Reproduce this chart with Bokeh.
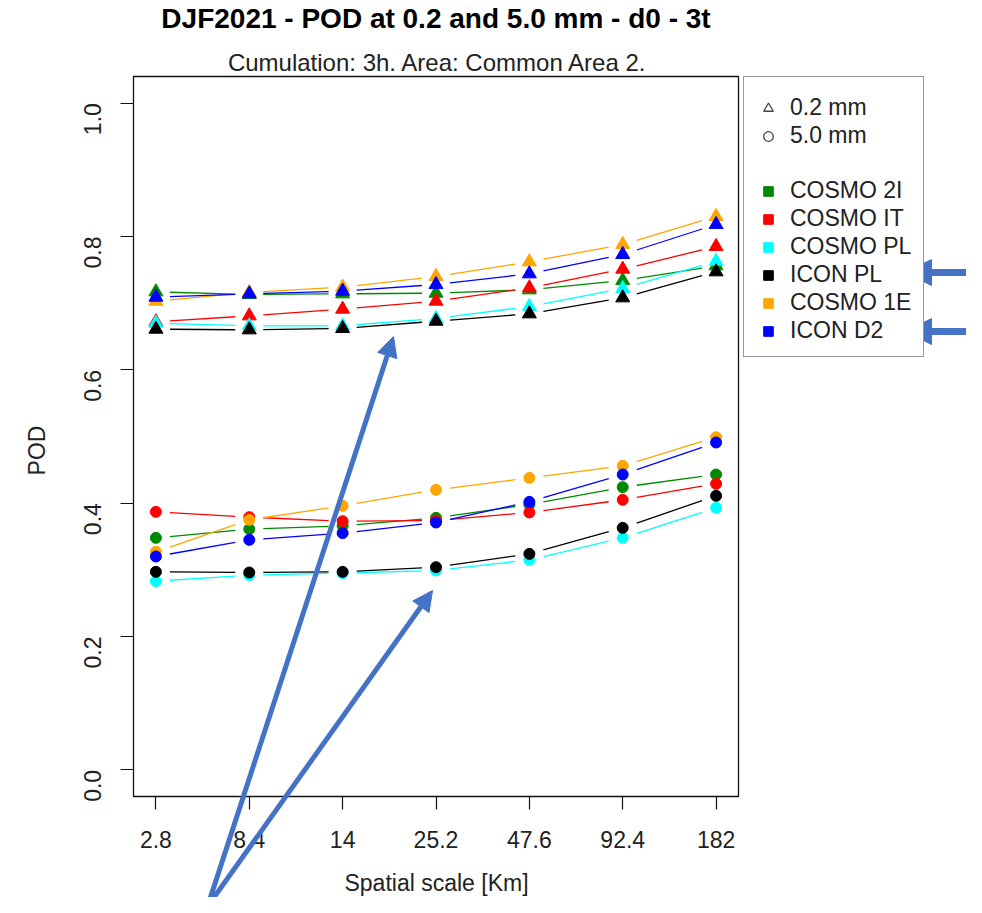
import math
from bokeh.plotting import figure
from bokeh.models import (FixedTicker, PrintfTickFormatter, Label, Arrow, NormalHead,
                          Legend, LegendItem, Range1d, ColumnDataSource, BoxAnnotation)
from bokeh.embed import file_html
from bokeh.resources import INLINE

# ---------------- data ----------------
scales = ["2.8", "8.4", "14", "25.2", "47.6", "92.4", "182"]
models = ["COSMO 2I", "COSMO IT", "COSMO PL", "ICON PL", "COSMO 1E", "ICON D2"]
colors = ["#008A00", "#FF0000", "#00FFFF", "#000000", "#FFA500", "#0000FF"]

# POD at 0.2 mm (triangles)
pod02_cosmo2i = [0.717, 0.713, 0.714, 0.715, 0.720, 0.734, 0.756]
pod02_cosmoit = [0.672, 0.681, 0.691, 0.703, 0.723, 0.751, 0.785]
pod02_cosmopl = [0.670, 0.666, 0.666, 0.677, 0.695, 0.722, 0.763]
pod02_iconpl = [0.661, 0.660, 0.662, 0.673, 0.684, 0.708, 0.747]
pod02_cosmo1e = [0.703, 0.716, 0.724, 0.740, 0.762, 0.788, 0.830]
pod02_icond2 = [0.709, 0.714, 0.718, 0.728, 0.744, 0.773, 0.818]

# POD at 5.0 mm (circles)
pod50_cosmo2i = [0.348, 0.361, 0.366, 0.378, 0.398, 0.424, 0.443]
pod50_cosmoit = [0.387, 0.379, 0.373, 0.374, 0.386, 0.405, 0.429]
pod50_cosmopl = [0.283, 0.292, 0.295, 0.299, 0.315, 0.348, 0.393]
pod50_iconpl = [0.297, 0.296, 0.297, 0.304, 0.324, 0.363, 0.411]
pod50_cosmo1e = [0.327, 0.375, 0.396, 0.420, 0.438, 0.456, 0.499]
pod50_icond2 = [0.320, 0.345, 0.355, 0.371, 0.402, 0.443, 0.491]

y_ticks = [0.0, 0.2, 0.4, 0.6, 0.8, 1.0]

series02 = [pod02_cosmo2i, pod02_cosmoit, pod02_cosmopl, pod02_iconpl, pod02_cosmo1e, pod02_icond2]
series50 = [pod50_cosmo2i, pod50_cosmoit, pod50_cosmopl, pod50_iconpl, pod50_cosmo1e, pod50_icond2]

# ---------------- layout ----------------
FONT = "Liberation Sans"
TXT = "#222222"
ARROW_BLUE = "#4472C4"
W, H = 966, 897
X0, X1 = 0.76, 7.24          # plot box data limits (R's 4% padding)
Y0, Y1 = -0.04, 1.04
FX0, FX1, FY0, FY1 = 133, 738, 76, 796   # plot box position on the canvas (px)


def dx(px):
    return X0 + (px - FX0) / (FX1 - FX0) * (X1 - X0)


def dy(py):
    return Y1 - (py - FY0) / (FY1 - FY0) * (Y1 - Y0)


# the frame covers the whole canvas; axes are pinned to the plot box edges
p = figure(width=W, height=H, x_range=Range1d(dx(0), dx(W)), y_range=Range1d(dy(H), dy(0)),
           min_border=0, min_border_left=0, min_border_right=0, min_border_top=0,
           min_border_bottom=0, output_backend="svg", toolbar_location=None)
p.xgrid.visible = False
p.ygrid.visible = False
p.outline_line_color = None
p.background_fill_color = "white"
p.border_fill_color = "white"

p.add_layout(BoxAnnotation(left=X0, right=X1, bottom=Y0, top=Y1, fill_alpha=0,
                           line_color="#111111", line_alpha=1.0, line_width=1.3))

xs = list(range(1, len(scales) + 1))
GAP = 0.15  # R type="b" gap around points (fraction of a step)


def gapped_segments(ys):
    x0, y0, x1, y1 = [], [], [], []
    for i in range(len(ys) - 1):
        xa, xb = xs[i], xs[i + 1]
        ya, yb = ys[i], ys[i + 1]
        x0.append(xa + GAP)
        x1.append(xb - GAP)
        y0.append(ya + (yb - ya) * GAP)
        y1.append(yb - (yb - ya) * GAP)
    return dict(x0=x0, y0=y0, x1=x1, y1=y1)


for ys02, ys50, c in zip(series02, series50, colors):
    for ys, marker, size in ((ys02, "triangle", 14), (ys50, "circle", 11)):
        p.segment(x0="x0", y0="y0", x1="x1", y1="y1",
                  source=ColumnDataSource(gapped_segments(ys)),
                  line_color=c, line_width=1.3)
        p.scatter(x=xs, y=ys, marker=marker, size=size, fill_color=c, line_color=c)

# axes
p.xaxis.ticker = FixedTicker(ticks=xs)
p.xaxis.major_label_overrides = {x: s for x, s in zip(xs, scales)}
p.xaxis.fixed_location = Y0
p.yaxis.ticker = FixedTicker(ticks=y_ticks)
p.yaxis.formatter = PrintfTickFormatter(format="%.1f")
p.yaxis.major_label_orientation = math.pi / 2
p.yaxis.fixed_location = X0
for ax in (p.xaxis[0], p.yaxis[0]):
    ax.axis_line_color = None
    ax.major_tick_line_color = "#111111"
    ax.major_tick_line_width = 1.2
    ax.minor_tick_line_color = None
    ax.major_tick_in = 0
    ax.major_tick_out = 13
    ax.major_label_text_font = FONT
    ax.major_label_text_font_size = "23px"
    ax.major_label_text_color = TXT
p.xaxis.major_label_standoff = 21
p.yaxis.major_label_standoff = 28

# axis titles and titles
p.add_layout(Label(x=dx(436), y=dy(882), text="Spatial scale [Km]",
                   text_font=FONT, text_font_size="23px", text_color=TXT,
                   text_align="center", text_baseline="middle"))
p.add_layout(Label(x=dx(36), y=dy(450), text="POD", angle=math.pi / 2,
                   text_font=FONT, text_font_size="23px", text_color=TXT,
                   text_align="center", text_baseline="middle"))
p.add_layout(Label(x=dx(435.5), y=dy(18), text="DJF2021 - POD at 0.2 and 5.0 mm - d0 - 3t",
                   text_font=FONT, text_font_size="28px", text_font_style="bold",
                   text_align="center", text_baseline="middle", text_color="black"))
p.add_layout(Label(x=dx(437.5), y=dy(62), text="Cumulation: 3h. Area: Common Area 2.",
                   text_font=FONT, text_font_size="24px",
                   text_align="center", text_baseline="middle", text_color=TXT))

# legend (key renderers hold a single NaN point so only their legend glyph shows)
NAN = [float("nan")]
r_tri = p.scatter(x=NAN, y=NAN, marker="triangle", size=13, fill_color=None,
                  line_color="#444444", line_width=1.3)
r_circ = p.scatter(x=NAN, y=NAN, marker="circle", size=10, fill_color=None,
                   line_color="#444444", line_width=1.3)
r_blank = p.scatter(x=NAN, y=NAN, marker="square", size=1, fill_alpha=0, line_alpha=0)
items = [LegendItem(label="0.2 mm", renderers=[r_tri]),
         LegendItem(label="5.0 mm", renderers=[r_circ]),
         LegendItem(label=" ", renderers=[r_blank])]
for m, c in zip(models, colors):
    r = p.scatter(x=NAN, y=NAN, marker="square", size=10, fill_color=c, line_color=c)
    items.append(LegendItem(label=m, renderers=[r]))

legend = Legend(items=items, location=(743, H - 357), orientation="vertical",
                title=" ", title_text_font_size="1px", title_standoff=4,
                border_line_color="#333333", border_line_width=1.5,
                background_fill_color="white", background_fill_alpha=1.0,
                label_text_font=FONT, label_text_font_size="23px", label_text_color=TXT,
                glyph_width=24, glyph_height=26, label_height=26, spacing=1,
                padding=12, label_standoff=10, label_width=121, margin=0,
                level="underlay")
p.add_layout(legend, "center")

# annotation arrows (overlaid on the original figure)
arrows = [((207, 906), (393, 336), 5, 20),
          ((207, 906), (432, 590), 5, 20),
          ((967, 272), (905, 272), 7, 26),
          ((967, 331), (905, 331), 7, 26)]
for (sx0, sy0), (sx1, sy1), lw, hs in arrows:
    p.add_layout(Arrow(end=NormalHead(size=hs, fill_color=ARROW_BLUE, line_color=ARROW_BLUE),
                       x_start=dx(sx0), y_start=dy(sy0), x_end=dx(sx1), y_end=dy(sy1),
                       line_color=ARROW_BLUE, line_width=lw, level="overlay"))

open("out.html", "w").write(file_html(p, INLINE))
